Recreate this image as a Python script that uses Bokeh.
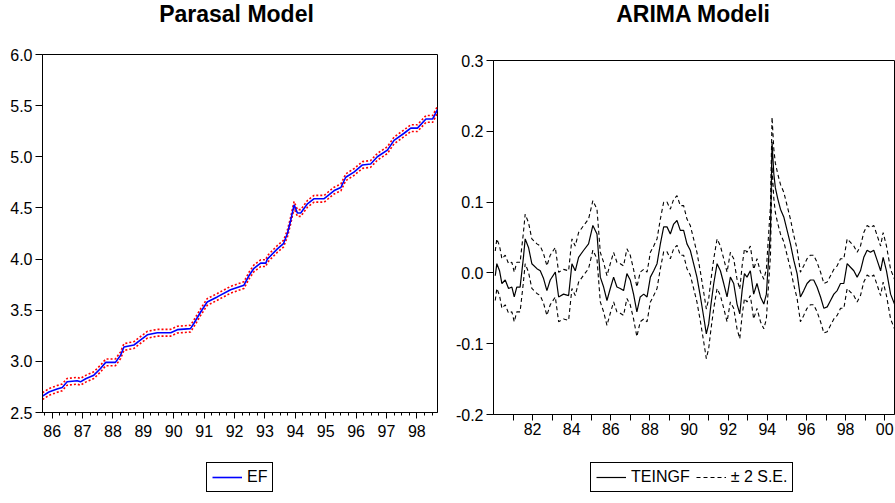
from bokeh.plotting import figure
from bokeh.layouts import row, column
from bokeh.models import FixedTicker, Legend, LegendItem, Range1d, NumeralTickFormatter, Label, Spacer
from bokeh.embed import file_html
from bokeh.resources import INLINE

# ---------------- data: left panel "Parasal Model" ----------------
ef_x = [1985.68, 1985.89, 1986.16, 1986.33, 1986.49, 1986.82, 1986.93, 1987.10, 1987.37,
        1987.59, 1987.76, 1988.08, 1988.25, 1988.36, 1988.69, 1988.91, 1989.13, 1989.46,
        1989.90, 1990.12, 1990.55, 1990.66, 1990.88, 1991.10, 1991.43, 1991.87, 1992.31,
        1992.48, 1992.64, 1992.86, 1993.03, 1993.08, 1993.41, 1993.61, 1993.74, 1993.85,
        1993.96, 1994.07, 1994.18, 1994.40, 1994.62, 1994.95, 1995.28, 1995.50, 1995.66,
        1995.93, 1996.21, 1996.48, 1996.70, 1997.03, 1997.25, 1997.58, 1997.80, 1998.02,
        1998.30, 1998.52, 1998.68]
ef = [2.66, 2.70, 2.73, 2.745, 2.80, 2.81, 2.80, 2.83, 2.865,
      2.93, 2.99, 2.99, 3.06, 3.14, 3.16, 3.21, 3.26, 3.28,
      3.28, 3.31, 3.32, 3.37, 3.48, 3.58, 3.63, 3.70, 3.745,
      3.84, 3.91, 3.96, 3.96, 4.00, 4.10, 4.15, 4.25, 4.38,
      4.53, 4.45, 4.45, 4.54, 4.59, 4.59, 4.67, 4.70, 4.80,
      4.85, 4.92, 4.93, 5.00, 5.065, 5.16, 5.23, 5.28, 5.28,
      5.37, 5.37, 5.46]
ef_2se = 0.033  # half-width of the red band

left_tick_years = [1986, 1987, 1988, 1989, 1990, 1991, 1992, 1993, 1994, 1995, 1996, 1997, 1998]
left_tick_labels = ["86", "87", "88", "89", "90", "91", "92", "93", "94", "95", "96", "97", "98"]

# ---------------- data: right panel "ARIMA Modeli" ----------------
arima_x = [1980.09, 1980.17, 1980.31, 1980.43, 1980.60, 1980.77, 1980.94, 1981.06, 1981.19, 1981.36,
           1981.53, 1981.62, 1981.79, 1981.96, 1982.22, 1982.39, 1982.56, 1982.73, 1982.90, 1983.16,
           1983.33, 1983.58, 1983.84, 1984.01, 1984.18, 1984.35, 1984.61, 1984.86, 1985.08, 1985.29,
           1985.46, 1985.63, 1985.80, 1985.97, 1986.14, 1986.31, 1986.48, 1986.65, 1986.82, 1986.99,
           1987.16, 1987.33, 1987.50, 1987.68, 1987.85, 1988.02, 1988.19, 1988.36, 1988.53, 1988.70,
           1988.87, 1989.04, 1989.21, 1989.38, 1989.55, 1989.72, 1989.89, 1990.06, 1990.23, 1990.40,
           1990.58, 1990.75, 1990.88, 1991.00, 1991.12, 1991.26, 1991.43, 1991.60, 1991.77, 1991.94,
           1992.11, 1992.28, 1992.45, 1992.59, 1992.71, 1992.83, 1992.96, 1993.13, 1993.30, 1993.47,
           1993.65, 1993.82, 1993.95, 1994.07, 1994.16, 1994.24, 1994.33, 1994.41, 1994.53, 1994.67,
           1994.84, 1995.01, 1995.18, 1995.35, 1995.52, 1995.69, 1995.86, 1996.03, 1996.20, 1996.37,
           1996.54, 1996.72, 1996.89, 1997.06, 1997.23, 1997.40, 1997.57, 1997.74, 1997.91, 1998.08,
           1998.25, 1998.42, 1998.59, 1998.76, 1998.93, 1999.10, 1999.27, 1999.44, 1999.61, 1999.79,
           1999.92, 2000.09, 2000.30, 2000.50]
teingf = [-0.004, 0.013, 0.003, -0.015, -0.010, -0.022, -0.020, -0.034, -0.020, -0.020,
          0.022, 0.048, 0.036, 0.013, 0.006, 0.003, -0.008, -0.025, -0.010, 0.001,
          -0.034, -0.030, -0.032, 0.013, 0.003, 0.022, 0.032, 0.041, 0.067, 0.055,
          -0.006, -0.020, -0.039, -0.022, -0.006, -0.020, -0.022, -0.025, -0.001, -0.010,
          -0.030, -0.055, -0.034, -0.030, -0.034, -0.006, 0.003, 0.013, 0.041, 0.065,
          0.065, 0.055, 0.069, 0.074, 0.060, 0.060, 0.041, 0.032, 0.013, -0.006,
          -0.034, -0.063, -0.086, -0.072, -0.044, -0.015, 0.013, 0.003, -0.015, -0.034,
          -0.006, -0.015, -0.044, -0.058, -0.025, -0.001, -0.006, 0.003, -0.030, -0.015,
          -0.034, -0.044, -0.030, 0.022, 0.060, 0.185, 0.140, 0.120, 0.105, 0.090,
          0.079, 0.060, 0.041, 0.018, -0.001, -0.034, -0.025, -0.015, -0.010, -0.010,
          -0.020, -0.034, -0.050, -0.048, -0.039, -0.030, -0.025, -0.015, -0.015, 0.013,
          0.008, 0.003, -0.006, 0.003, 0.022, 0.032, 0.029, 0.032, 0.018, 0.003,
          0.022, 0.003, -0.030, -0.044]
teingf_2se = 0.035  # half-width of the dashed band

right_tick_years = [1982, 1984, 1986, 1988, 1990, 1992, 1994, 1996, 1998, 2000]
right_tick_labels = ["82", "84", "86", "88", "90", "92", "94", "96", "98", "00"]
right_minor_years = [1981, 1983, 1985, 1987, 1989, 1991, 1993, 1995, 1997, 1999]

ef_upper = [v + ef_2se for v in ef]
ef_lower = [v - ef_2se for v in ef]
t_upper = [v + teingf_2se for v in teingf]
t_lower = [v - teingf_2se for v in teingf]

TICK_FONT = "Liberation Sans"
TITLE_FONT = "Liberation Sans"

EF_STYLE = dict(line_color="#0000FF", line_width=1.6)
BAND_STYLE = dict(line_color="#FF0000", line_width=1.6, line_dash="2 2")
T_STYLE = dict(line_color="black", line_width=1.2)
TB_STYLE = dict(line_color="black", line_width=1.1, line_dash="4 3")


def bare_fig(width, height):
    f = figure(width=width, height=height, x_range=Range1d(0, 1), y_range=Range1d(0, 1),
               x_axis_location=None, y_axis_location=None,
               output_backend="svg", toolbar_location=None,
               min_border_left=0, min_border_right=0, min_border_top=0, min_border_bottom=0)
    f.xgrid.visible = False
    f.ygrid.visible = False
    f.outline_line_color = None
    f.background_fill_color = "white"
    f.border_fill_color = "white"
    return f


def style(p):
    p.xgrid.visible = False
    p.ygrid.visible = False
    p.outline_line_color = "black"
    p.outline_line_width = 1
    p.outline_line_alpha = 1
    p.background_fill_color = "white"
    p.border_fill_color = "white"
    for ax in (p.xaxis[0], p.yaxis[0]):
        ax.axis_line_color = "black"
        ax.major_tick_line_color = "black"
        ax.minor_tick_line_color = "black"
        ax.major_tick_in = 0
        ax.minor_tick_in = 0
        ax.major_label_text_font = TICK_FONT
        ax.major_label_text_font_size = "16px"
        ax.major_label_text_color = "black"
    p.yaxis.major_tick_out = 7
    p.yaxis.minor_tick_line_color = None
    p.yaxis.major_label_standoff = 3
    p.yaxis.formatter = NumeralTickFormatter(format="0.0")


# ---------------- titles row ----------------
tfig = bare_fig(895, 30)
for tx, tt in ((236, "Parasal Model"), (693, "ARIMA Modeli")):
    tfig.add_layout(Label(x=tx, y=17, x_units="screen", y_units="screen", text=tt,
                          text_align="center", text_baseline="middle",
                          text_font=TITLE_FONT, text_font_style="bold",
                          text_font_size="23px", text_color="black"))

# ---------------- left figure ----------------
p1 = figure(width=447, height=415,
            x_range=Range1d(1985.68, 1998.68), y_range=Range1d(2.5, 6.0),
            output_backend="svg", toolbar_location=None,
            min_border_left=42, min_border_right=10, min_border_top=24, min_border_bottom=33)
style(p1)
p1.yaxis.ticker = FixedTicker(ticks=[2.5, 3.0, 3.5, 4.0, 4.5, 5.0, 5.5, 6.0])
quarters = [1985.75 + 0.25 * k for k in range(52)]
p1.xaxis.ticker = FixedTicker(ticks=left_tick_years, minor_ticks=quarters)
p1.xaxis.major_label_overrides = {float(y): lab for y, lab in zip(left_tick_years, left_tick_labels)}
p1.xaxis.major_tick_out = 6
p1.xaxis.minor_tick_out = 3
p1.xaxis.major_label_standoff = 6

p1.line(ef_x, ef_upper, **BAND_STYLE)
p1.line(ef_x, ef_lower, **BAND_STYLE)
p1.line(ef_x, ef, **EF_STYLE)

# ---------------- right figure ----------------
p2 = figure(width=448, height=409,
            x_range=Range1d(1980.0, 2000.5), y_range=Range1d(-0.2, 0.3),
            output_backend="svg", toolbar_location=None,
            min_border_left=46, min_border_right=1, min_border_top=24, min_border_bottom=31)
style(p2)
p2.yaxis.ticker = FixedTicker(ticks=[-0.2, -0.1, 0.0, 0.1, 0.2, 0.3])
p2.xaxis.ticker = FixedTicker(ticks=right_tick_years, minor_ticks=right_minor_years)
p2.xaxis.major_label_overrides = {float(y): lab for y, lab in zip(right_tick_years, right_tick_labels)}
p2.xaxis.major_tick_out = 6
p2.xaxis.minor_tick_out = 6
p2.xaxis.major_label_standoff = 2

p2.line(arima_x, t_upper, **TB_STYLE)
p2.line(arima_x, t_lower, **TB_STYLE)
p2.line(arima_x, teingf, **T_STYLE)

# ---------------- legends row ----------------
lfig = bare_fig(895, 58)
# legend keys: the same series, drawn outside this strip's visible range
k_ef = lfig.line(ef_x, ef, **EF_STYLE)
k_t = lfig.line(arima_x, teingf, **T_STYLE)
k_tb = lfig.line(arima_x, t_upper, **TB_STYLE)


def make_legend(items, loc, standoff, spacing):
    return Legend(items=items, location=loc, orientation="horizontal",
                  border_line_color="black", border_line_width=1, border_line_alpha=1,
                  background_fill_color="white", background_fill_alpha=1,
                  label_text_font=TICK_FONT, label_text_font_size="16px",
                  label_text_color="black",
                  glyph_width=30, glyph_height=16, label_standoff=standoff,
                  padding=5, margin=0, spacing=spacing)


lfig.add_layout(make_legend([LegendItem(label="EF", renderers=[k_ef])], (206, 11), 5, 8))
lfig.add_layout(make_legend([LegendItem(label="TEINGF", renderers=[k_t]),
                             LegendItem(label="± 2 S.E.", renderers=[k_tb])], (590, 11), 5, 6))

layout = column(tfig, row(p1, column(Spacer(width=448, height=6), p2)), lfig)
open("out.html", "w").write(file_html(layout, INLINE))
